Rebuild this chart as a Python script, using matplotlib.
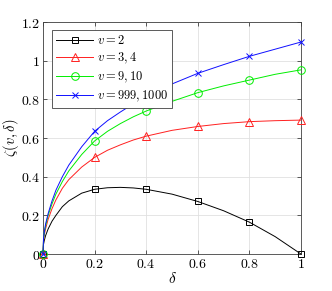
"""Recreate the zeta(v, delta) curves figure."""

import matplotlib

matplotlib.use("Agg")
import matplotlib.pyplot as plt
import numpy as np

# values
DELTA = [0.0, 0.002, 0.005, 0.01, 0.02, 0.035, 0.05, 0.075, 0.1, 0.15,
         0.2, 0.25, 0.3, 0.35, 0.4, 0.5, 0.6, 0.7, 0.8, 0.9, 1.0]
ZETA_V2 = [0.0, 0.05, 0.07, 0.095, 0.13, 0.17, 0.20, 0.245, 0.275, 0.315,
           0.335, 0.343, 0.345, 0.342, 0.335, 0.31, 0.272, 0.224, 0.165,
           0.09, 0.0]
ZETA_V34 = [0.0, 0.07, 0.10, 0.13, 0.18, 0.235, 0.28, 0.34, 0.385, 0.45,
            0.50, 0.537, 0.565, 0.59, 0.61, 0.64, 0.66, 0.675, 0.685, 0.69,
            0.693]
ZETA_V910 = [0.0, 0.075, 0.11, 0.145, 0.20, 0.26, 0.31, 0.375, 0.43, 0.515,
             0.585, 0.635, 0.675, 0.71, 0.74, 0.79, 0.835, 0.87, 0.90, 0.93,
             0.953]
ZETA_V1000 = [0.0, 0.08, 0.115, 0.155, 0.21, 0.275, 0.33, 0.40, 0.46, 0.555,
              0.635, 0.69, 0.735, 0.777, 0.815, 0.88, 0.935, 0.98, 1.023,
              1.06, 1.097]
MARKER_DELTAS = [0.0, 0.2, 0.4, 0.6, 0.8, 1.0]

SERIES = [
    (ZETA_V2, r"$v=2$", "k", "s", 4),
    (ZETA_V34, r"$v=3,4$", "#ff2020", "^", 6),
    (ZETA_V910, r"$v=9,10$", "#00ee00", "o", 5.5),
    (ZETA_V1000, r"$v=999,1000$", "#1010ff", "x", 4.5),
]


def main() -> None:
    plt.rcParams.update(
        {
            "mathtext.fontset": "cm",
            "font.family": "serif",
            "font.serif": ["DejaVu Serif"],
            "font.size": 8,
        }
    )
    fig = plt.figure(figsize=(3.32, 2.91), dpi=100)
    ax = fig.add_axes([0.1295, 0.127, 0.7771, 0.797])

    delta = np.array(DELTA)
    marks = [int(np.argmin(np.abs(delta - d))) for d in MARKER_DELTAS]
    for values, label, color, marker, size in SERIES:
        ax.plot(
            delta,
            values,
            color=color,
            linewidth=0.7,
            marker=marker,
            markersize=size,
            markerfacecolor="none",
            markeredgecolor=color,
            markeredgewidth=0.7,
            markevery=marks,
            label=label,
            clip_on=False,
            zorder=3,
        )

    ax.set_xlim(0, 1)
    ax.set_ylim(0, 1.2)
    xt = np.arange(0, 1.01, 0.2)
    yt = np.arange(0, 1.21, 0.2)
    ax.set_xticks(xt)
    ax.set_yticks(yt)
    ax.set_xticklabels([f"${t:g}$" for t in xt], fontsize=10)
    ax.set_yticklabels([f"${t:g}$" for t in yt], fontsize=10)
    ax.tick_params(direction="in", length=3, width=0.6, color="#404040",
                   top=True, right=True, pad=2)
    ax.grid(True, color="#e0e0e0", linewidth=0.6)
    ax.set_axisbelow(True)
    for spine in ax.spines.values():
        spine.set_color("#404040")
        spine.set_linewidth(0.6)

    ax.set_xlabel(r"$\delta$", fontsize=11, labelpad=0)
    ax.set_ylabel(r"$\zeta(v,\delta)$", fontsize=10.5, labelpad=0)

    legend = ax.legend(
        loc="upper left",
        bbox_to_anchor=(0.035, 0.965),
        fontsize=9,
        fancybox=False,
        framealpha=1,
        edgecolor="#404040",
        handlelength=3.0,
        handletextpad=0.3,
        borderpad=0.3,
        labelspacing=0.3,
        borderaxespad=0,
    )
    legend.get_frame().set_linewidth(0.6)

    fig.savefig("out.png", dpi=100)
    plt.close(fig)


if __name__ == "__main__":
    main()
